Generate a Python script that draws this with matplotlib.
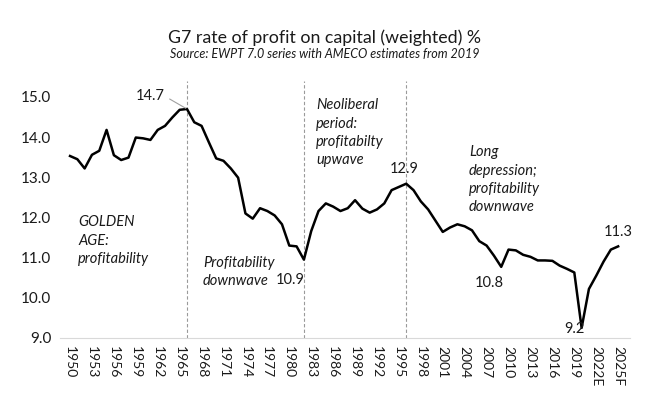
import matplotlib
matplotlib.use('Agg')
import matplotlib.pyplot as plt

plt.rcParams['font.family'] = ['Lato', 'DejaVu Sans']

# G7 rate of profit on capital (weighted), %
years = list(range(1950, 2026))
rate = [13.53, 13.45, 13.22, 13.56, 13.66, 14.18, 13.55, 13.43, 13.49, 13.99,
        13.97, 13.93, 14.18, 14.28, 14.49, 14.68, 14.70, 14.37, 14.28, 13.87,
        13.47, 13.41, 13.22, 12.99, 12.10, 11.97, 12.23, 12.16, 12.05, 11.83,
        11.30, 11.28, 10.95, 11.66, 12.16, 12.35, 12.27, 12.16, 12.23, 12.43,
        12.22, 12.12, 12.20, 12.35, 12.68, 12.76, 12.84, 12.68, 12.40, 12.20,
        11.92, 11.64, 11.75, 11.83, 11.78, 11.68, 11.41, 11.30, 11.05, 10.77,
        11.20, 11.18, 11.07, 11.02, 10.93, 10.93, 10.92, 10.80, 10.72, 10.63,
        9.25, 10.22, 10.55, 10.90, 11.20, 11.28]

tick_years = list(range(1950, 2026, 3))
tick_labels = [str(y) for y in tick_years]
tick_labels[-2] = '2022E'
tick_labels[-1] = '2025F'

y_ticks = [9.0, 10.0, 11.0, 12.0, 13.0, 14.0, 15.0]

# period breaks
breaks = [1966, 1982, 1996]

# labelled points: year, text, offset in pixels
point_labels = [(1966, '14.7', (-37, 13)),
                (1982, '10.9', (-14, -20)),
                (1996, '12.9', (-2, 15)),
                (2009, '10.8', (-12, -16)),
                (2020, '9.2', (-7, -1)),
                (2025, '11.3', (0, 14))]

# period notes: x, y (data), text
notes = [(1951.1, 12.05, 'GOLDEN\nAGE:\nprofitability'),
         (1968.2, 11.05, 'Profitability\ndownwave'),
         (1983.7, 14.97, 'Neoliberal\nperiod:\nprofitabilty\nupwave'),
         (2004.6, 13.8, 'Long\ndepression;\nprofitability\ndownwave')]

fig = plt.figure(figsize=(6.5, 3.99), dpi=100)
ax = fig.add_axes([0.092, 0.153, 0.877, 0.604])

ax.plot(years, rate, color='black', lw=1.8, zorder=3)

for b in breaks:
    ax.vlines(b, 9.0, 15.4, colors='#9a9a9a', linestyles=(0, (3, 2)),
              lw=0.8, clip_on=False, zorder=1)

for yr, txt, off in point_labels:
    v = rate[years.index(yr)]
    if yr == 1966:
        ax.annotate(txt, (yr, v), xytext=off, textcoords='offset pixels',
                    ha='center', va='center', fontsize=10.5, color='#1a1a1a',
                    arrowprops=dict(arrowstyle='-', color='#a0a0a0', lw=0.8,
                                    relpos=(1.0, 0.5), shrinkA=2, shrinkB=1))
    else:
        ax.annotate(txt, (yr, v), xytext=off, textcoords='offset pixels',
                    ha='center', va='center', fontsize=10.5, color='#1a1a1a')

for x, y, txt in notes:
    ax.text(x, y, txt, ha='left', va='top', fontsize=10.5, style='italic',
            color='#1a1a1a', linespacing=1.4)

ax.set_xlim(1948.6, 2026.6)
ax.set_ylim(9.0, 15.0)
ax.set_yticks(y_ticks)
ax.set_yticklabels(['%.1f' % t for t in y_ticks], fontsize=11, color='#1a1a1a')
ax.set_xticks(tick_years)
ax.set_xticklabels(tick_labels, rotation=-90, fontsize=10, color='#1a1a1a')
ax.tick_params(length=0, pad=6)

for s in ['top', 'right', 'left']:
    ax.spines[s].set_visible(False)
ax.spines['bottom'].set_color('#d9d9d9')
ax.spines['bottom'].set_linewidth(0.8)

fig.text(0.5, 1 - 38 / 399, 'G7 rate of profit on capital (weighted) %',
         ha='center', va='center', fontsize=12.8, color='#1a1a1a')
fig.text(0.5, 1 - 54 / 399, 'Source: EWPT 7.0 series with AMECO estimates from 2019',
         ha='center', va='center', fontsize=9, style='italic', color='#1a1a1a')

fig.savefig('out.png', dpi=100)
